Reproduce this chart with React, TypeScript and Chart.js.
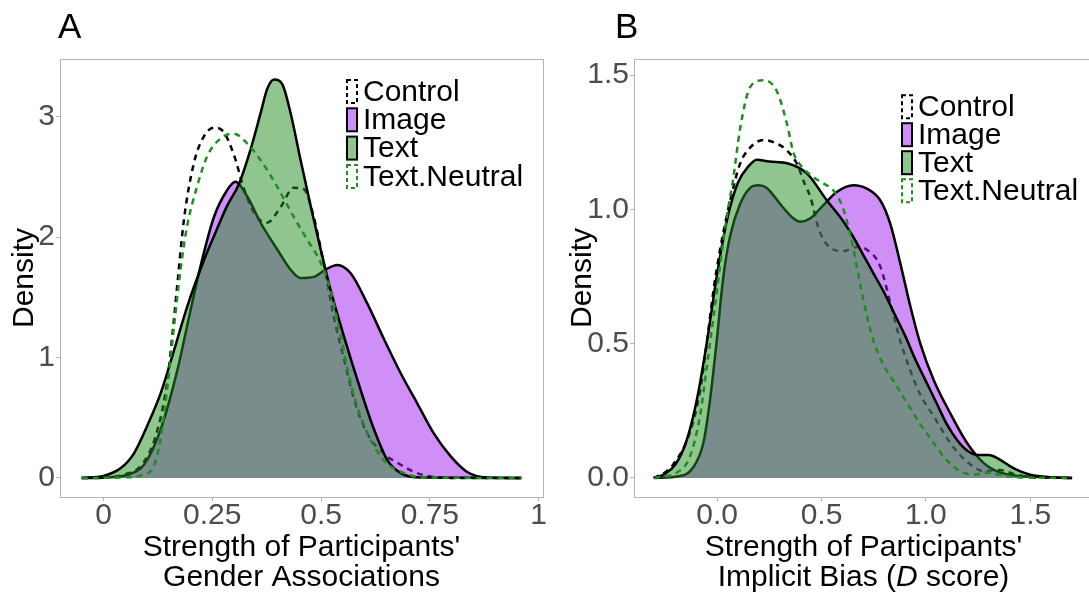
import React, { useEffect, useRef } from 'react';
import { Chart, registerables } from 'chart.js';

Chart.register(...registerables);

const FONT = "'Liberation Sans', Arial, Helvetica, sans-serif";

// ---------- Legend / series names ----------
const seriesNames = ['Control', 'Image', 'Text', 'Text.Neutral'];

// ---------- Panel A: Gender Associations ----------
const aXTicks = [0, 0.25, 0.5, 0.75, 1];
const aXTickLabels = ['0', '0.25', '0.5', '0.75', '1'];
const aYTicks = [0, 1, 2, 3];
const aYTickLabels = ['0', '1', '2', '3'];
// each title line is a list of [text, italic] runs
const aXTitle: [string, boolean][][] = [
  [["Strength of Participants'", false]],
  [['Gender Associations', false]],
];

const aControlX = [-0.05, 0, 0.05, 0.09, 0.12, 0.146, 0.16, 0.17, 0.185, 0.208, 0.231, 0.254, 0.277, 0.3, 0.323, 0.346, 0.376, 0.407, 0.437, 0.46, 0.483, 0.506, 0.529, 0.553, 0.576, 0.606, 0.645, 0.683, 0.721, 0.76, 0.8, 0.96];
const aControlY = [0, 0.005, 0.03, 0.12, 0.35, 0.79, 1.25, 1.62, 2.15, 2.62, 2.84, 2.91, 2.87, 2.68, 2.4, 2.2, 2.12, 2.25, 2.41, 2.4, 2.17, 1.78, 1.34, 0.98, 0.65, 0.37, 0.2, 0.11, 0.04, 0.008, 0, 0];

const aImageX = [-0.05, 0, 0.03, 0.054, 0.093, 0.131, 0.17, 0.192, 0.223, 0.254, 0.284, 0.303, 0.33, 0.361, 0.399, 0.43, 0.453, 0.483, 0.51, 0.537, 0.568, 0.606, 0.645, 0.683, 0.721, 0.759, 0.798, 0.836, 0.88, 0.96];
const aImageY = [0, 0.002, 0.01, 0.025, 0.11, 0.4, 0.9, 1.26, 1.76, 2.17, 2.39, 2.46, 2.34, 2.12, 1.9, 1.73, 1.66, 1.67, 1.73, 1.77, 1.7, 1.45, 1.15, 0.87, 0.62, 0.37, 0.18, 0.05, 0.005, 0];

const aTextX = [-0.05, 0, 0.039, 0.07, 0.1, 0.131, 0.162, 0.192, 0.231, 0.254, 0.284, 0.311, 0.338, 0.361, 0.376, 0.392, 0.411, 0.43, 0.453, 0.476, 0.499, 0.522, 0.553, 0.591, 0.622, 0.652, 0.683, 0.73, 0.96];
const aTextY = [0, 0.017, 0.08, 0.205, 0.43, 0.7, 1.06, 1.42, 1.81, 2.01, 2.26, 2.44, 2.73, 3.03, 3.23, 3.31, 3.27, 3.03, 2.64, 2.26, 1.9, 1.56, 1.17, 0.73, 0.4, 0.15, 0.04, 0.003, 0];

const aNeutralX = [-0.05, 0.05, 0.093, 0.116, 0.131, 0.146, 0.162, 0.177, 0.192, 0.215, 0.238, 0.269, 0.3, 0.33, 0.361, 0.399, 0.437, 0.468, 0.499, 0.522, 0.545, 0.568, 0.591, 0.622, 0.652, 0.691, 0.73, 0.96];
const aNeutralY = [0, 0.005, 0.03, 0.1, 0.32, 0.73, 1.26, 1.73, 2.09, 2.42, 2.67, 2.82, 2.86, 2.78, 2.64, 2.42, 2.17, 1.98, 1.79, 1.56, 1.18, 0.79, 0.51, 0.26, 0.12, 0.04, 0.005, 0];

// ---------- Panel B: Implicit Bias (D score) ----------
const bXTicks = [0, 0.5, 1, 1.5];
const bXTickLabels = ['0.0', '0.5', '1.0', '1.5'];
const bYTicks = [0, 0.5, 1, 1.5];
const bYTickLabels = ['0.0', '0.5', '1.0', '1.5'];
const bXTitle: [string, boolean][][] = [
  [["Strength of Participants'", false]],
  [['Implicit Bias (', false], ['D', true], [' score)', false]],
];

const bControlX = [-0.305, -0.25, -0.21, -0.13, -0.08, -0.05, -0.017, 0.014, 0.062, 0.11, 0.158, 0.222, 0.286, 0.334, 0.382, 0.422, 0.445, 0.49, 0.557, 0.605, 0.67, 0.717, 0.78, 0.83, 0.877, 0.925, 0.973, 1.037, 1.117, 1.197, 1.28, 1.35, 1.42, 1.5, 1.7];
const bControlY = [0, 0.02, 0.05, 0.17, 0.33, 0.5, 0.7, 0.85, 1.03, 1.17, 1.23, 1.258, 1.245, 1.22, 1.17, 1.09, 1.05, 0.92, 0.85, 0.845, 0.86, 0.85, 0.79, 0.65, 0.51, 0.4, 0.31, 0.23, 0.13, 0.06, 0.025, 0.03, 0.015, 0.003, 0];

const bImageX = [-0.3, -0.193, -0.114, -0.066, -0.034, -0.002, 0.03, 0.062, 0.11, 0.158, 0.198, 0.238, 0.302, 0.366, 0.398, 0.445, 0.509, 0.573, 0.653, 0.717, 0.781, 0.829, 0.877, 0.925, 0.973, 1.037, 1.117, 1.197, 1.277, 1.357, 1.517, 1.7];
const bImageY = [0, 0.005, 0.04, 0.13, 0.29, 0.51, 0.75, 0.9, 1.02, 1.08, 1.09, 1.08, 1.02, 0.966, 0.954, 0.966, 1.016, 1.065, 1.09, 1.077, 1.034, 0.947, 0.8, 0.64, 0.5, 0.365, 0.24, 0.13, 0.055, 0.02, 0.004, 0];

const bTextX = [-0.3, -0.25, -0.2, -0.15, -0.1, -0.05, 0, 0.05, 0.1, 0.15, 0.19, 0.25, 0.34, 0.43, 0.525, 0.6, 0.65, 0.7, 0.75, 0.8, 0.85, 0.9, 0.95, 1, 1.05, 1.1, 1.15, 1.2, 1.25, 1.3, 1.35, 1.4, 1.45, 1.5, 1.6, 1.7];
const bTextY = [0, 0.015, 0.05, 0.13, 0.28, 0.5, 0.76, 0.97, 1.1, 1.16, 1.185, 1.178, 1.171, 1.134, 1.034, 0.96, 0.9, 0.83, 0.76, 0.69, 0.61, 0.53, 0.44, 0.36, 0.28, 0.2, 0.14, 0.1, 0.085, 0.085, 0.07, 0.045, 0.025, 0.012, 0.003, 0];

const bNeutralX = [-0.3, -0.193, -0.13, -0.082, -0.05, -0.017, 0.014, 0.046, 0.078, 0.11, 0.158, 0.222, 0.286, 0.334, 0.366, 0.398, 0.461, 0.509, 0.557, 0.605, 0.653, 0.701, 0.749, 0.797, 0.845, 0.909, 0.973, 1.037, 1.1, 1.165, 1.229, 1.29, 1.35, 1.45, 1.7];
const bNeutralY = [0, 0.02, 0.08, 0.23, 0.41, 0.6, 0.79, 0.97, 1.12, 1.3, 1.455, 1.481, 1.44, 1.32, 1.21, 1.166, 1.12, 1.097, 1.07, 1.0, 0.85, 0.66, 0.51, 0.42, 0.36, 0.28, 0.2, 0.13, 0.065, 0.025, 0.012, 0.02, 0.012, 0.002, 0];

// ---------- styles ----------
const PURPLE_FILL = 'rgba(160,32,240,0.5)';
const GREEN_FILL = 'rgba(34,139,34,0.5)';
const GREEN_LINE = 'rgb(34,139,34)';
const AXIS_GREY = '#b3b3b3';
const TICK_TEXT = '#4d4d4d';

const pts = (xs: number[], ys: number[]) => xs.map((x, i) => ({ x, y: ys[i] }));

type Panel = {
  letter: string;
  letterX: number;
  xMin: number; xMax: number; yMin: number; yMax: number;
  xTicks: number[]; xTickLabels: string[];
  yTicks: number[]; yTickLabels: string[];
  xTitle: [string, boolean][][];
  yAxisWidth: number; yTitlePad: number; padRight: number;
  legendX: number; legendY: number; legendPitch: number;
  series: { x: number[]; y: number[] }[];
};

const panelA: Panel = {
  letter: 'A', letterX: 58,
  xMin: -0.1, xMax: 1.01, yMin: -0.158, yMax: 3.48,
  xTicks: aXTicks, xTickLabels: aXTickLabels,
  yTicks: aYTicks, yTickLabels: aYTickLabels,
  xTitle: aXTitle,
  yAxisWidth: 60, yTitlePad: 10, padRight: 17,
  legendX: 347, legendY: 91.5, legendPitch: 28.3,
  series: [
    { x: aControlX, y: aControlY },
    { x: aImageX, y: aImageY },
    { x: aTextX, y: aTextY },
    { x: aNeutralX, y: aNeutralY },
  ],
};

const panelB: Panel = {
  letter: 'B', letterX: 55,
  xMin: -0.398, xMax: 1.8, yMin: -0.071, yMax: 1.56,
  xTicks: bXTicks, xTickLabels: bXTickLabels,
  yTicks: bYTicks, yTickLabels: bYTickLabels,
  xTitle: bXTitle,
  yAxisWidth: 74, yTitlePad: 8, padRight: 27,
  legendX: 342, legendY: 106.7, legendPitch: 28,
  series: [
    { x: bControlX, y: bControlY },
    { x: bImageX, y: bImageY },
    { x: bTextX, y: bTextY },
    { x: bNeutralX, y: bNeutralY },
  ],
};

const legendStyles = [
  { fill: null as string | null, stroke: '#000', dash: [4, 3] },
  { fill: PURPLE_FILL, stroke: '#000', dash: [] as number[] },
  { fill: GREEN_FILL, stroke: '#000', dash: [] as number[] },
  { fill: null as string | null, stroke: GREEN_LINE, dash: [4, 3] },
];

function makeConfig(p: Panel): any {
  const dsStyles = [
    { borderColor: '#000', borderDash: [6, 5], fill: false, backgroundColor: 'transparent', order: 4 },
    { borderColor: '#000', borderDash: [], fill: 'origin', backgroundColor: PURPLE_FILL, order: 3 },
    { borderColor: '#000', borderDash: [], fill: 'origin', backgroundColor: GREEN_FILL, order: 2 },
    { borderColor: GREEN_LINE, borderDash: [6, 5], fill: false, backgroundColor: 'transparent', order: 1 },
  ];
  const datasets = p.series.map((s, i) => ({
    label: seriesNames[i],
    data: pts(s.x, s.y),
    borderWidth: 2.5,
    pointRadius: 0,
    cubicInterpolationMode: 'monotone',
    ...dsStyles[i],
  }));

  const decor = {
    id: 'decor' + p.letter,
    afterDraw(chart: any) {
      const ctx = chart.ctx as CanvasRenderingContext2D;
      const ca = chart.chartArea;
      ctx.save();
      // panel border
      ctx.strokeStyle = AXIS_GREY;
      ctx.lineWidth = 1;
      ctx.setLineDash([]);
      ctx.strokeRect(Math.round(ca.left) + 0.5, Math.round(ca.top) + 0.5, Math.round(ca.right - ca.left), Math.round(ca.bottom - ca.top));
      // panel letter
      ctx.fillStyle = '#000';
      ctx.font = `35px ${FONT}`;
      ctx.textBaseline = 'alphabetic';
      ctx.textAlign = 'left';
      ctx.fillText(p.letter, p.letterX, 38);
      // x-axis title (two lines, with italic runs)
      const cx = (ca.left + ca.right) / 2;
      ctx.textBaseline = 'middle';
      p.xTitle.forEach((runs, li) => {
        const cy = 548 + li * 30;
        const widths = runs.map(([t, it]) => {
          ctx.font = `${it ? 'italic ' : ''}30px ${FONT}`;
          return ctx.measureText(t).width;
        });
        const total = widths.reduce((s, w) => s + w, 0);
        let x = cx - total / 2;
        runs.forEach(([t, it], ri) => {
          ctx.font = `${it ? 'italic ' : ''}30px ${FONT}`;
          ctx.fillText(t, x, cy);
          x += widths[ri];
        });
      });
      // legend
      ctx.font = `30px ${FONT}`;
      seriesNames.forEach((name, i) => {
        const st = legendStyles[i];
        const cy = p.legendY + p.legendPitch * i;
        const bx = p.legendX, bw = 10, bh = 23, by = cy - bh / 2;
        if (st.fill) {
          ctx.fillStyle = st.fill;
          ctx.fillRect(bx, by, bw, bh);
        }
        ctx.setLineDash(st.dash);
        ctx.lineWidth = 2;
        ctx.strokeStyle = st.stroke;
        ctx.strokeRect(bx, by, bw, bh);
        ctx.setLineDash([]);
        ctx.fillStyle = '#000';
        ctx.textBaseline = 'middle';
        ctx.fillText(name, bx + bw + 6, cy + 1);
      });
      ctx.restore();
    },
  };

  return {
    type: 'line',
    data: { datasets },
    plugins: [decor],
    options: {
      animation: false,
      responsive: false,
      maintainAspectRatio: false,
      layout: { padding: { top: 59, left: 0, right: p.padRight, bottom: 0 } },
      plugins: { legend: { display: false }, tooltip: { enabled: false }, title: { display: false } },
      elements: { line: { tension: 0.4 } },
      scales: {
        x: {
          type: 'linear',
          position: 'bottom',
          min: p.xMin,
          max: p.xMax,
          afterBuildTicks: (scale: any) => { scale.ticks = p.xTicks.map((v) => ({ value: v })); },
          afterFit: (scale: any) => { scale.height = 96; },
          ticks: {
            autoSkip: false,
            maxRotation: 0,
            padding: 0,
            color: TICK_TEXT,
            font: { family: FONT, size: 30, lineHeight: 1.0 },
            callback: (_v: any, i: number) => p.xTickLabels[i],
          },
          grid: { drawOnChartArea: false, drawTicks: true, tickLength: 4, color: AXIS_GREY, lineWidth: 1 },
          border: { display: true, color: AXIS_GREY, width: 1 },
          title: { display: false },
        },
        y: {
          type: 'linear',
          position: 'left',
          min: p.yMin,
          max: p.yMax,
          afterBuildTicks: (scale: any) => { scale.ticks = p.yTicks.map((v) => ({ value: v })); },
          afterFit: (scale: any) => { scale.width = p.yAxisWidth; },
          ticks: {
            autoSkip: false,
            padding: 1,
            color: TICK_TEXT,
            font: { family: FONT, size: 30, lineHeight: 1.0 },
            callback: (_v: any, i: number) => p.yTickLabels[i],
          },
          grid: { drawOnChartArea: false, drawTicks: true, tickLength: 4, color: AXIS_GREY, lineWidth: 1 },
          border: { display: true, color: AXIS_GREY, width: 1 },
          title: {
            display: true,
            text: 'Density',
            color: '#000',
            font: { family: FONT, size: 30, lineHeight: 1.0 },
            padding: { top: p.yTitlePad, bottom: 0 },
          },
        },
      },
    },
  };
}

export default function App() {
  const refA = useRef<HTMLCanvasElement>(null);
  const refB = useRef<HTMLCanvasElement>(null);
  useEffect(() => {
    const a = new Chart(refA.current as HTMLCanvasElement, makeConfig(panelA));
    const b = new Chart(refB.current as HTMLCanvasElement, makeConfig(panelB));
    return () => {
      a.destroy();
      b.destroy();
    };
  }, []);
  return (
    <div style={{ position: 'absolute', left: 0, top: 0, width: 1089, height: 593, overflow: 'hidden', background: '#fff' }}>
      <canvas ref={refA} width={560} height={593} style={{ position: 'absolute', left: 0, top: 0, width: 560, height: 593 }} />
      <canvas ref={refB} width={560} height={593} style={{ position: 'absolute', left: 560, top: 0, width: 560, height: 593 }} />
    </div>
  );
}
